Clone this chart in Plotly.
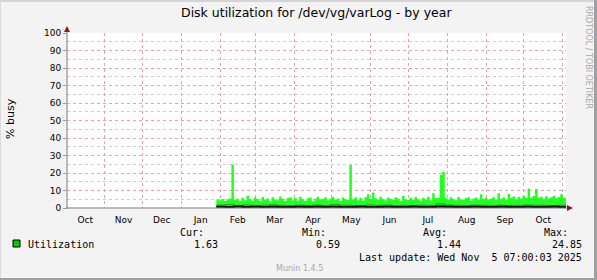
import pandas as pd
import plotly.graph_objects as go

# ---------------- data ----------------
title_text = "Disk utilization for /dev/vg/varLog - by year"
y_label = "% busy"
series_name = "Utilization"
x_start = "2024-10-02"
x_end = "2025-11-03 15:00"

# maximum utilisation, one value per 2-day step starting 2025-01-29
max_start = "2025-01-29"
max_values = [
    4.8, 4.5, 5.2, 4.0, 5.0, 5.5,
    24.85,
    4.6, 5.3, 4.2, 5.8, 4.4, 7.0, 5.1, 4.3, 6.0,
    5.2, 4.1, 6.3, 4.8, 5.5, 3.9, 6.1, 5.0, 4.4, 6.6, 5.3, 4.0, 5.7, 6.2, 4.5,
    5.8, 4.3, 6.5, 5.0, 4.2, 5.6, 6.0, 3.8, 5.3, 6.4, 4.7, 5.1, 6.2, 4.4, 5.5,
    6.3, 4.9, 5.4, 4.1, 6.0, 5.2, 4.6,
    24.6,
    5.0, 6.2, 4.5, 5.8, 4.3, 6.1, 7.8, 5.2,
    8.8,
    5.6, 4.8, 6.4, 5.1, 4.4, 6.0, 5.3, 4.7, 6.2, 5.5, 4.1, 6.9, 5.0, 4.6,
    5.8, 4.9, 6.3, 5.2, 4.3, 5.9, 5.0, 6.4, 4.5,
    8.4,
    5.6, 5.9,
    19.0,
    20.6,
    5.8, 4.9, 6.1, 5.2, 4.4, 6.3, 5.0, 4.6, 5.7, 6.2, 4.3, 5.5, 6.0, 4.8,
    7.8,
    5.1, 6.0, 4.7, 5.4, 6.2, 4.9,
    8.5,
    5.3, 6.1, 4.6,
    8.0,
    5.9, 6.6, 5.0, 6.3, 5.4, 6.8, 5.7,
    11.2,
    6.0, 6.9,
    10.9,
    5.8, 6.4, 5.2, 6.7, 5.5, 6.1, 7.0, 5.6, 6.3,
    7.8,
    5.9,
]

# weekly average and minimum starting 2025-01-29
week_start = "2025-01-29"
avg_values = [1.6, 1.9, 1.5, 1.7, 1.4, 1.6, 1.8, 1.5, 1.3, 1.6, 1.5, 1.7, 1.4, 1.9, 1.6, 1.5,
              1.4, 1.7, 1.5, 1.6, 1.3, 1.5, 1.4, 1.6, 1.5, 2.3, 1.7, 1.5, 1.4, 1.6, 1.5, 1.3,
              1.6, 1.4, 1.5, 1.7, 1.6, 1.5, 1.4, 1.6]
min_values = [0.7, 0.6, 0.8, 0.6, 0.7, 0.6, 0.7, 0.6, 0.6, 0.7, 0.6, 0.7, 0.6, 0.7, 0.6, 0.6,
              0.7, 0.6, 0.6, 0.7, 0.6, 0.6, 0.7, 0.6, 0.6, 0.8, 0.7, 0.6, 0.6, 0.7, 0.6, 0.6,
              0.7, 0.6, 0.6, 0.7, 0.6, 0.6, 0.7, 0.6]

stat_cur = "1.63"
stat_min = "0.59"
stat_avg = "1.44"
stat_max = "24.85"
last_update = "Last update: Wed Nov  5 07:00:03 2025"
footer = "Munin 1.4.5"
side_text = "RRDTOOL / TOBI OETIKER"

# ---------------- build step series ----------------
def step_series(start, values, days):
    x = list(pd.date_range(start, periods=len(values) + 1, freq=f"{days}D"))
    y = list(values) + [values[-1]]
    return x, y

mx, my = step_series(max_start, max_values, 2)
ax_, ay = step_series(week_start, avg_values, 7)
nx, ny = step_series(week_start, min_values, 7)
ax_[-1] = pd.Timestamp(x_end)
nx[-1] = pd.Timestamp(x_end)
mx[-1] = pd.Timestamp(x_end)

# ---------------- layout helpers ----------------
W, H = 597, 280
L, R, T, B = 67, 566, 33, 208

def px(x):
    return (x - L) / (R - L)

def py(y):
    return (B - y) / (B - T)

FONT = "DejaVu Sans"
MONO = "DejaVu Sans Mono"

fig = go.Figure()
fig.add_trace(go.Scatter(x=mx, y=my, mode="lines", line=dict(width=0, shape="hv"),
                         fill="tozeroy", fillcolor="#22FF22", hoverinfo="skip", showlegend=False))
fig.add_trace(go.Scatter(x=ax_, y=ay, mode="lines", line=dict(width=1, color="#00AA00", shape="hv"),
                         hoverinfo="skip", showlegend=False))
fig.add_trace(go.Scatter(x=nx, y=ny, mode="lines", line=dict(width=2, color="#000000", shape="hv"),
                         hoverinfo="skip", showlegend=False))

grid_major = "rgb(244,160,160)"
grid_minor = "rgb(205,205,205)"

fig.update_layout(
    width=W, height=H,
    margin=dict(l=L, r=W - R, t=T, b=H - B, pad=0),
    paper_bgcolor="#F3F3F3",
    plot_bgcolor="#FFFFFF",
    showlegend=False,
    xaxis=dict(
        type="date", range=[x_start, x_end],
        tick0="2024-10-01", dtick="M1", tickformat="%b", ticklabelmode="period",
        showgrid=True, gridcolor=grid_major, griddash="dot", gridwidth=0.5,
        ticks="", ticklabelstandoff=5, tickfont=dict(family=FONT, size=9, color="#000000"),
        showline=False, zeroline=False, fixedrange=True,
    ),
    yaxis=dict(
        range=[0, 100], tick0=0, dtick=10,
        showgrid=True, gridcolor=grid_major, griddash="dot", gridwidth=0.5,
        minor=dict(tick0=5, dtick=10, showgrid=True, gridcolor=grid_minor, griddash="dot", gridwidth=0.5),
        ticks="outside", ticklen=3, tickcolor="#999999",
        tickfont=dict(family=FONT, size=9, color="#000000"),
        showline=False, zeroline=False, fixedrange=True,
    ),
)

shapes = []
# frame
shapes.append(dict(type="rect", xref="paper", yref="paper", x0=px(0), x1=px(W), y0=py(H), y1=py(H - 2),
                   fillcolor="#A0A0A0", line=dict(width=0), layer="above"))
shapes.append(dict(type="rect", xref="paper", yref="paper", x0=px(W - 3), x1=px(W), y0=py(H), y1=py(0),
                   fillcolor="#A0A0A0", line=dict(width=0), layer="above"))
shapes.append(dict(type="rect", xref="paper", yref="paper", x0=px(0), x1=px(W - 3), y0=py(2), y1=py(0),
                   fillcolor="#D4D4D4", line=dict(width=0), layer="above"))
shapes.append(dict(type="rect", xref="paper", yref="paper", x0=px(0), x1=px(1), y0=py(H - 2), y1=py(0),
                   fillcolor="#DCDCDC", line=dict(width=0), layer="above"))
# axes
shapes.append(dict(type="line", xref="paper", yref="paper", x0=px(67), x1=px(67), y0=py(209), y1=py(30),
                   line=dict(color="#7A7A7A", width=1), layer="above"))
shapes.append(dict(type="line", xref="paper", yref="paper", x0=px(66), x1=px(569), y0=py(208), y1=py(208),
                   line=dict(color="#7A7A7A", width=1), layer="above"))
# arrows
shapes.append(dict(type="path", xref="paper", yref="paper",
                   path=f"M {px(64)} {py(32)} L {px(70)} {py(32)} L {px(67)} {py(26)} Z",
                   fillcolor="#8B1A1A", line=dict(width=0), layer="above"))
shapes.append(dict(type="path", xref="paper", yref="paper",
                   path=f"M {px(567)} {py(205)} L {px(567)} {py(211)} L {px(573)} {py(208)} Z",
                   fillcolor="#8B1A1A", line=dict(width=0), layer="above"))
# legend swatch
shapes.append(dict(type="rect", xref="paper", yref="paper", x0=px(13), x1=px(20), y0=py(247), y1=py(240),
                   fillcolor="#00CC00", line=dict(color="#000000", width=1), layer="above"))
fig.update_layout(shapes=shapes)

def text(x, y, s, size, family=FONT, color="#000000", xanchor="left", angle=0):
    fig.add_annotation(x=px(x), y=py(y), xref="paper", yref="paper", text=s, showarrow=False,
                       xanchor=xanchor, yanchor="middle", textangle=angle,
                       font=dict(family=family, size=size, color=color))

text(316.5, 13, title_text, 12.5, xanchor="center")
text(10, 119, y_label, 11, xanchor="center", angle=-90)
text(589, 57, side_text, 8, color="#A8A8A8", xanchor="center", angle=90)
text(26, 244, series_name, 10, family=MONO)
text(206, 232, "Cur:", 10, family=MONO, xanchor="right")
text(220, 244, stat_cur, 10, family=MONO, xanchor="right")
text(328, 232, "Min:", 10, family=MONO, xanchor="right")
text(342, 244, stat_min, 10, family=MONO, xanchor="right")
text(449, 232, "Avg:", 10, family=MONO, xanchor="right")
text(463, 244, stat_avg, 10, family=MONO, xanchor="right")
text(570, 232, "Max:", 10, family=MONO, xanchor="right")
text(584, 244, stat_max, 10, family=MONO, xanchor="right")
text(584, 257, last_update.replace("  ", "&nbsp; "), 10, family=MONO, xanchor="right")
text(299, 268, footer, 8, color="#A8A8A8", xanchor="center")

fig.write_html("out.html")
